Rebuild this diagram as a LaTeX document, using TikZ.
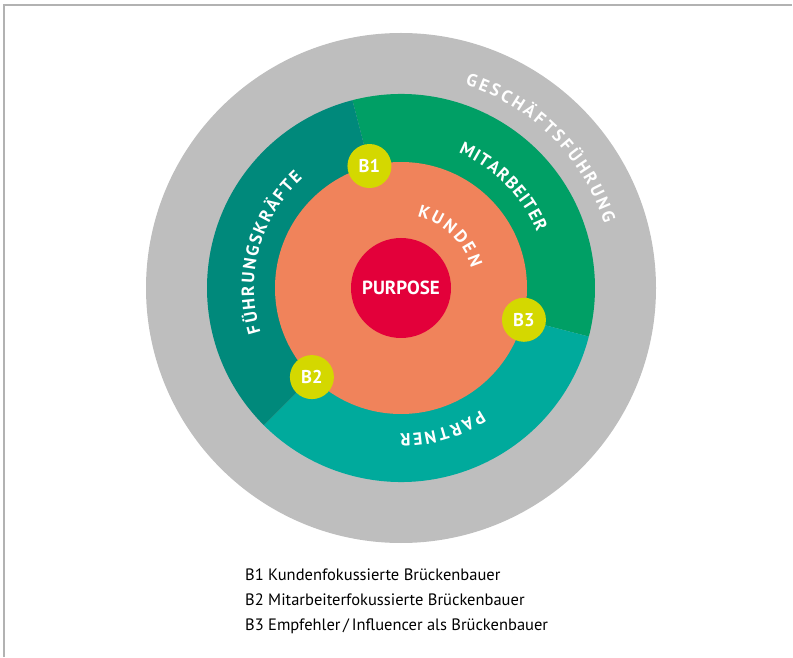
\documentclass[tikz,border=0pt]{standalone}
\usepackage{fontspec}
\setmainfont{PT Sans}
\usetikzlibrary{decorations.text}

\definecolor{ringgray}{RGB}{190,190,190}
\definecolor{framegray}{RGB}{178,178,178}
\definecolor{mitgreen}{RGB}{0,159,101}
\definecolor{fuehrteal}{RGB}{0,137,123}
\definecolor{partteal}{RGB}{0,170,156}
\definecolor{kundorange}{RGB}{240,131,91}
\definecolor{purpred}{RGB}{227,0,58}
\definecolor{bridgeyellow}{RGB}{212,216,0}

\newcommand\ringfont{\color{white}\fontsize{17.5}{18}\selectfont\bfseries}
\newcommand\legfont{\fontsize{16.5}{20}\selectfont}

\begin{document}
\begin{tikzpicture}[x=1pt,y=1pt,
  badge/.style={circle,fill=bridgeyellow,minimum size=44pt,inner sep=0pt,text=white,
    font=\fontsize{18.5}{18}\selectfont\bfseries},
  ringlabel/.style={decorate,decoration={text along path,text align={fit to path},
    text={|\ringfont|#1}}},
  legend/.style={anchor=base west,font=\legfont,inner sep=0pt}]
\useasboundingbox (0,0) rectangle (793,657);
\coordinate (c) at (401,369);
\draw[framegray,line width=2pt] (4,0) -- (4,652) -- (792,652);

\fill[ringgray] (c) circle[radius=255];
\fill[mitgreen] (c) -- ([shift={(104.5:194)}]c) arc[start angle=104.5,end angle=-14.5,radius=194] -- cycle;
\fill[partteal] (c) -- ([shift={(-14.5:194)}]c) arc[start angle=-14.5,end angle=-135,radius=194] -- cycle;
\fill[fuehrteal] (c) -- ([shift={(225:194)}]c) arc[start angle=225,end angle=104.5,radius=194] -- cycle;
\node[circle,fill=kundorange,minimum size=252pt,inner sep=0pt] (kunden) at (c) {};
\node[circle,fill=purpred,minimum size=100pt,inner sep=0pt,text=white,
  font=\fontsize{19}{19}\selectfont\bfseries] (purpose) at (c) {PURPOSE};

\path[ringlabel=GESCHÄFTSFÜHRUNG] ([shift={(72.5:213)}]c) arc[start angle=72.5,end angle=17.5,radius=213];
\path[ringlabel=MITARBEITER] ([shift={(67:147)}]c) arc[start angle=67,end angle=22.5,radius=147];
\path[ringlabel=FÜHRUNGSKRÄFTE] ([shift={(197.5:147)}]c) arc[start angle=197.5,end angle=132,radius=147];
\path[ringlabel=PARTNER] ([shift={(-57:146)}]c) arc[start angle=-57,end angle=-90.5,radius=146];
\path[ringlabel=KUNDEN] ([shift={(77:73)}]c) arc[start angle=77,end angle=16,radius=73];

\node[badge] (b1) at ([shift={(104.5:126)}]c) {B1};
\node[badge] (b2) at ([shift={(225:126)}]c) {B2};
\node[badge] (b3) at ([shift={(-14.5:127)}]c) {B3};

\node[legend] (leg1) at (245,77) {B1 Kundenfokussierte Brückenbauer};
\node[legend] (leg2) at (245,52) {B2 Mitarbeiterfokussierte Brückenbauer};
\node[legend] (leg3) at (245,27) {B3 Empfehler\,/\,Influencer als Brückenbauer};
\end{tikzpicture}
\end{document}
